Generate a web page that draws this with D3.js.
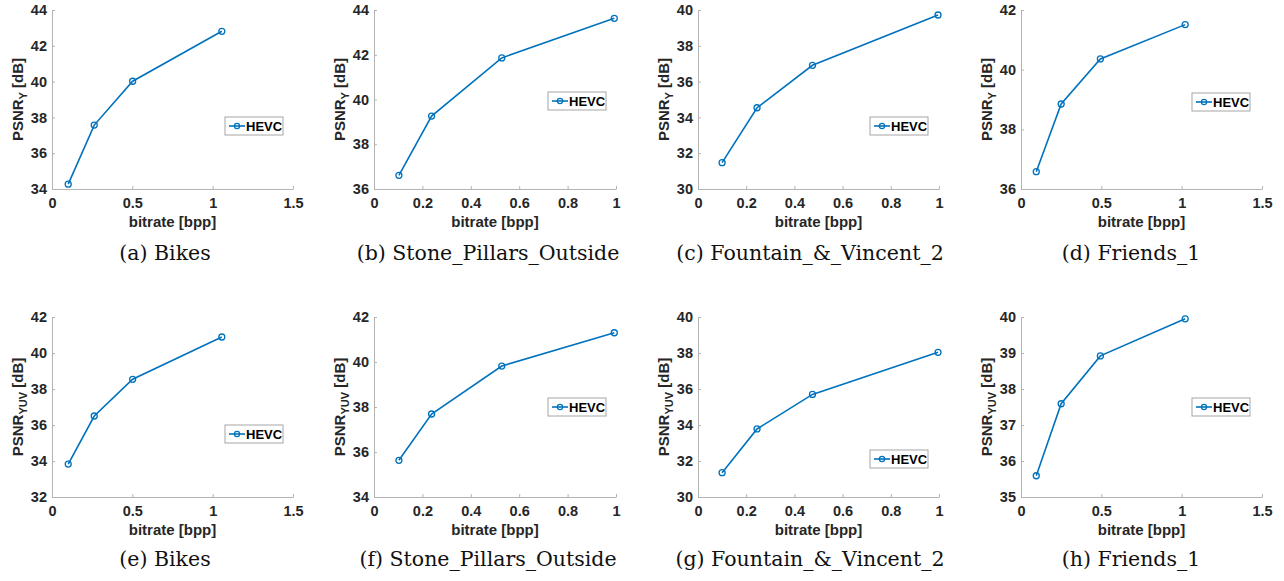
<!DOCTYPE html>
<html lang="en">
<head>
  <title>HEVC rate-distortion</title>
  <meta charset="UTF-8">
  <style>
    body { margin: 0; background: #fff; }
    .tick text { font-family: "Liberation Sans", Arial, sans-serif; font-weight: bold; font-size: 14.5px; fill: #262626; }
  </style>
  <script src="https://cdn.jsdelivr.net/npm/d3@7"></script>
</head>
<body>
<script>
  // sequences shown in the two rows
  var sequences = ["Bikes", "Stone_Pillars_Outside", "Fountain_&_Vincent_2", "Friends_1"];
  var letters = ["a", "b", "c", "d", "e", "f", "g", "h"];

  // bitrate [bpp] of the four HEVC rate points
  var bitrateBikes    = [0.101, 0.263, 0.502, 1.057];
  var bitrateStone    = [0.103, 0.238, 0.528, 0.993];
  var bitrateFountain = [0.100, 0.245, 0.475, 0.996];
  var bitrateFriends  = [0.095, 0.250, 0.494, 1.022];

  // PSNR_Y [dB]
  var psnrYBikes    = [34.27, 37.57, 40.02, 42.81];
  var psnrYStone    = [36.61, 39.26, 41.86, 43.63];
  var psnrYFountain = [31.47, 34.54, 36.91, 39.72];
  var psnrYFriends  = [36.58, 38.85, 40.36, 41.51];

  // PSNR_YUV [dB]
  var psnrYUVBikes    = [33.83, 36.50, 38.54, 40.89];
  var psnrYUVStone    = [35.63, 37.69, 39.82, 41.30];
  var psnrYUVFountain = [31.35, 33.78, 35.70, 38.04];
  var psnrYUVFriends  = [35.59, 37.59, 38.92, 39.95];

  // axis limits / ticks
  var xTicksWide = [0, 0.5, 1, 1.5];
  var xTicksNarrow = [0, 0.2, 0.4, 0.6, 0.8, 1];
  var yDomainsY = [[34, 44], [36, 44], [30, 40], [36, 42]];
  var yDomainsYUV = [[32, 42], [34, 42], [30, 40], [35, 40]];
  var yStepsY = [2, 2, 2, 2];
  var yStepsYUV = [2, 2, 2, 1];

  var bitrates = [bitrateBikes, bitrateStone, bitrateFountain, bitrateFriends];
  var psnrY = [psnrYBikes, psnrYStone, psnrYFountain, psnrYFriends];
  var psnrYUV = [psnrYUVBikes, psnrYUVStone, psnrYUVFountain, psnrYUVFriends];
  var xTickSets = [xTicksWide, xTicksNarrow, xTicksNarrow, xTicksWide];

  // layout
  var colX = [[52, 293], [374, 616], [698, 939], [1021, 1262]];
  var rowY = [[10, 189], [317, 497]];
  var captionX = [165, 488, 810, 1131];
  var captionY = [260, 566];
  var legendPos = [
    [[225, 117], [548, 92], [870, 117], [1192, 93]],
    [[225, 425], [548, 398], [870, 450], [1192, 398]]
  ];

  var blue = "#0072BD";
  var sans = "'Liberation Sans', Arial, sans-serif";

  var svg = d3.select("body").append("svg")
    .attr("width", 1284).attr("height", 581);

  [0, 1].forEach(function(row) {
    sequences.forEach(function(name, col) {
      var yDom = row === 0 ? yDomainsY[col] : yDomainsYUV[col];
      var step = row === 0 ? yStepsY[col] : yStepsYUV[col];
      var vals = row === 0 ? psnrY[col] : psnrYUV[col];
      var xt = xTickSets[col];

      var x = d3.scaleLinear().domain([0, xt[xt.length - 1]]).range(colX[col]);
      var y = d3.scaleLinear().domain(yDom).range([rowY[row][1], rowY[row][0]]);
      var g = svg.append("g");

      var yt = d3.range(yDom[0], yDom[1] + step / 2, step);

      var xa = g.append("g")
        .attr("transform", "translate(0," + rowY[row][1] + ")")
        .call(d3.axisBottom(x).tickValues(xt).tickFormat(d3.format("~g"))
          .tickSizeInner(-3).tickSizeOuter(0).tickPadding(9));
      var ya = g.append("g")
        .attr("transform", "translate(" + colX[col][0] + ",0)")
        .call(d3.axisLeft(y).tickValues(yt).tickFormat(d3.format("d"))
          .tickSizeInner(-3).tickSizeOuter(0).tickPadding(5));
      [xa, ya].forEach(function(a) {
        a.select(".domain").attr("stroke", "#b3b3b3");
        a.selectAll(".tick line").attr("stroke", "#b3b3b3");
      });

      // axis labels
      g.append("text")
        .attr("x", (colX[col][0] + colX[col][1]) / 2)
        .attr("y", rowY[row][1] + 38)
        .attr("text-anchor", "middle")
        .style("font-family", sans).style("font-weight", "bold").style("font-size", "15px")
        .attr("fill", "#262626")
        .text("bitrate [bpp]");

      var yl = g.append("text")
        .attr("transform", "translate(" + (colX[col][0] - 29) + "," + ((rowY[row][0] + rowY[row][1]) / 2) + ")rotate(-90)")
        .attr("text-anchor", "middle")
        .style("font-family", sans).style("font-weight", "bold").style("font-size", "15px")
        .attr("fill", "#262626");
      yl.append("tspan").text("PSNR");
      yl.append("tspan").attr("dy", 4).style("font-size", "11px").text(row === 0 ? "Y" : "YUV");
      yl.append("tspan").attr("dy", -4).text(" [dB]");

      // data line + markers
      var pts = vals.map(function(v, i) { return [bitrates[col][i], v]; });
      g.append("path")
        .attr("d", d3.line().x(function(d) { return x(d[0]); }).y(function(d) { return y(d[1]); })(pts))
        .attr("fill", "none").attr("stroke", blue).attr("stroke-width", 1.6);
      g.selectAll("circle.pt").data(pts).enter().append("circle")
        .attr("class", "pt")
        .attr("cx", function(d) { return x(d[0]); })
        .attr("cy", function(d) { return y(d[1]); })
        .attr("r", 3).attr("fill", "none").attr("stroke", blue).attr("stroke-width", 1.3);

      // legend
      var lp = legendPos[row][col];
      var lg = g.append("g").attr("transform", "translate(" + lp[0] + "," + lp[1] + ")");
      lg.append("rect").attr("width", 58).attr("height", 18)
        .attr("fill", "#fff").attr("stroke", "#a6a6a6").attr("stroke-width", 1);
      lg.append("line").attr("x1", 4).attr("x2", 20).attr("y1", 9).attr("y2", 9)
        .attr("stroke", blue).attr("stroke-width", 1.6);
      lg.append("circle").attr("cx", 12).attr("cy", 9).attr("r", 2.6)
        .attr("fill", "none").attr("stroke", blue).attr("stroke-width", 1.2);
      lg.append("text").attr("x", 21).attr("y", 14)
        .style("font-family", sans).style("font-weight", "bold").style("font-size", "13px")
        .attr("fill", "#000").text("HEVC");

      // caption
      svg.append("text")
        .attr("x", captionX[col]).attr("y", captionY[row])
        .attr("text-anchor", "middle")
        .style("font-family", "'DejaVu Serif', serif").style("font-size", "20.5px")
        .attr("fill", "#111")
        .text("(" + letters[row * 4 + col] + ") " + name);
    });
  });
</script>
</body>
</html>
